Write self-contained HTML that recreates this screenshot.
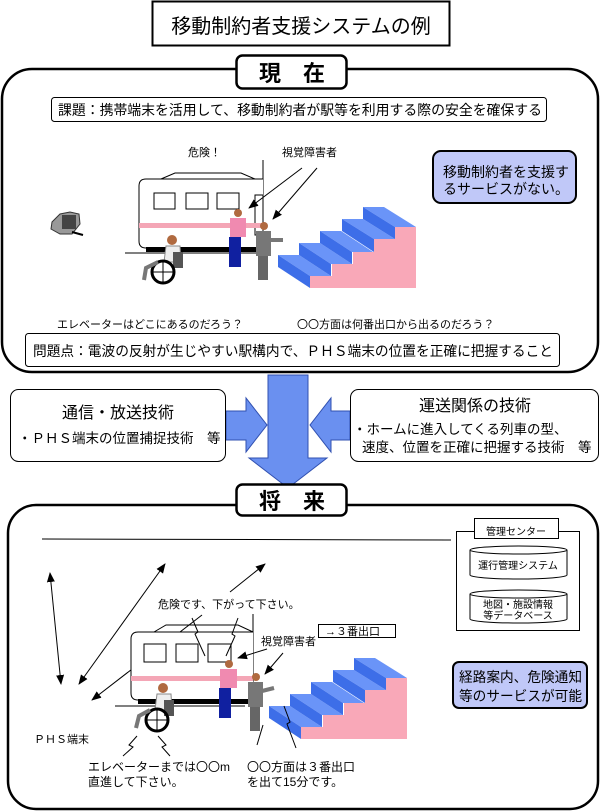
<!DOCTYPE html>
<html><head><meta charset="utf-8"><style>
html,body{margin:0;padding:0;background:#fff;}
svg{display:block;}
text{font-family:"Liberation Sans","Noto Sans CJK JP",sans-serif;fill:#000;}
</style></head><body>
<svg width="600" height="811" viewBox="0 0 600 811" xmlns="http://www.w3.org/2000/svg">
<defs>
<marker id="ah" markerWidth="10" markerHeight="10" refX="9" refY="5" orient="auto" markerUnits="userSpaceOnUse"><path d="M0,1 L10,5 L0,9 z" fill="#000"/></marker>
<marker id="as" markerWidth="10" markerHeight="10" refX="1" refY="5" orient="auto" markerUnits="userSpaceOnUse"><path d="M10,1 L0,5 L10,9 z" fill="#000"/></marker>
<g id="stairs">
<polygon points="310,288 416,288 416,227 395,227 395,239 374,239 374,252 353,252 353,264 332,264 332,276 310,276" fill="#f9a8b8"/>
<polygon points="278,255 299,255 331,276 310,276" fill="#6a94f8"/><polygon points="278,255 310,276 310,288 278,267" fill="#3d6ee8"/>
<polygon points="299,243 320,243 352,264 331,264" fill="#6a94f8"/><polygon points="299,243 331,264 331,276 299,255" fill="#3d6ee8"/>
<polygon points="320,231 341,231 373,252 352,252" fill="#6a94f8"/><polygon points="320,231 352,252 352,264 320,243" fill="#3d6ee8"/>
<polygon points="342,219 363,219 395,239 374,239" fill="#6a94f8"/><polygon points="342,219 374,239 374,252 342,231" fill="#3d6ee8"/>
<polygon points="363,207 384,207 416,227 395,227" fill="#6a94f8"/><polygon points="363,207 395,227 395,239 363,219" fill="#3d6ee8"/>
</g>
</defs>

<!-- Title -->
<rect x="152.5" y="1.5" width="297" height="44" fill="#fff" stroke="#000" stroke-width="2"/>
<text x="301" y="33" font-size="20" text-anchor="middle">移動制約者支援システムの例</text>

<!-- Top panel -->
<rect x="2" y="69" width="596" height="303" rx="30" fill="#fff" stroke="#000" stroke-width="2.5"/>
<rect x="236.5" y="55.5" width="110" height="33" rx="6" fill="#fff" stroke="#000" stroke-width="2.5"/>
<text x="292" y="81" font-size="22" font-weight="bold" text-anchor="middle">現　在</text>
<rect x="51.5" y="97.5" width="495" height="24" rx="3" fill="#fff" stroke="#000" stroke-width="1"/>
<text x="58" y="115" font-size="14" textLength="484" lengthAdjust="spacingAndGlyphs">課題：携帯端末を活用して、移動制約者が駅等を利用する際の安全を確保する</text>

<text x="188" y="156" font-size="11">危険！</text>
<text x="282" y="156" font-size="11">視覚障害者</text>

<rect x="433" y="151" width="143" height="52" rx="8" fill="#c0c8f8" stroke="#000" stroke-width="2"/>
<text x="443" y="177" font-size="14">移動制約者を支援す</text>
<text x="443" y="194" font-size="14">るサービスがない。</text>

<!-- train top -->
<line x1="263" y1="160" x2="263" y2="265" stroke="#000"/>
<path d="M161,179 L175,173 L241,173 L255,179" fill="none" stroke="#000"/>
<path d="M263,179 L146,179 Q139,179 139,186 L139,241 Q139,248 146,248 L263,248" fill="#fff" stroke="#000"/>
<rect x="154" y="193" width="21" height="16" fill="#fff" stroke="#000"/>
<rect x="186" y="193" width="22" height="16" fill="#fff" stroke="#000"/>
<rect x="217" y="193" width="22" height="16" fill="#fff" stroke="#000"/>
<rect x="255" y="195" width="8" height="40" fill="none" stroke="#000"/>
<rect x="139" y="223" width="124" height="5" fill="#f4a6b6"/>
<rect x="146" y="247" width="117" height="5" fill="#000"/>
<line x1="125" y1="253" x2="263" y2="253" stroke="#000"/>
<line x1="302" y1="168" x2="249" y2="208" stroke="#000" marker-end="url(#ah)"/>
<line x1="317" y1="168" x2="273" y2="219" stroke="#000" marker-end="url(#ah)"/>

<use href="#stairs"/>

<!-- phone -->
<g>
<polygon points="52,222 60,214 70,212 79,214 80,224 72,234 60,234 51,229" fill="#999" stroke="#333"/>
<rect x="62" y="215" width="14" height="14" fill="#444"/>
<line x1="72" y1="232" x2="83" y2="235" stroke="#000" stroke-width="2"/>
</g>

<!-- people top -->
<g>
<circle cx="172" cy="240" r="5" fill="#b06a40"/>
<path d="M166,246 L180,246 L181,262 L164,262 z" fill="#eee" stroke="#888"/>
<rect x="173" y="252" width="10" height="16" fill="#555"/>
<circle cx="163" cy="272" r="11" fill="none" stroke="#000" stroke-width="3"/>
<line x1="152" y1="272" x2="174" y2="272" stroke="#000"/><line x1="163" y1="261" x2="163" y2="283" stroke="#000"/>
<path d="M158,262 L146,268 L144,280" stroke="#777" stroke-width="4" fill="none"/>
<circle cx="238" cy="213" r="4" fill="#b06a40"/>
<path d="M230,218 L246,218 L246,237 L230,237 z" fill="#f08ab0"/>
<rect x="229" y="237" width="12" height="30" fill="#1020a0"/>
<circle cx="264" cy="226" r="4" fill="#b06a40"/>
<rect x="256" y="231" width="15" height="25" fill="#777"/>
<line x1="270" y1="240" x2="283" y2="240" stroke="#777" stroke-width="4"/>
<rect x="258" y="256" width="10" height="24" fill="#666"/>
</g>

<text x="57" y="328" font-size="11">エレベーターはどこにあるのだろう？</text>
<text x="297" y="328" font-size="11">〇〇方面は何番出口から出るのだろう？</text>
<rect x="25.5" y="333.5" width="534" height="33" rx="3" fill="#fff" stroke="#000" stroke-width="1"/>
<text x="33" y="356" font-size="14" textLength="520" lengthAdjust="spacingAndGlyphs">問題点：電波の反射が生じやすい駅構内で、ＰＨＳ端末の位置を正確に把握すること</text>

<!-- middle arrows -->
<polygon points="268,375 308,375 308,458 327,458 288,488 249,458 268,458" fill="#6a90f0" stroke="#3050b0" stroke-width="1"/>
<polygon points="226,411 246,411 246,398 267,425 246,452 246,440 226,440" fill="#6a90f0" stroke="#3050b0" stroke-width="1"/>
<polygon points="350,411 331,411 331,398 310,425 331,452 331,440 350,440" fill="#6a90f0" stroke="#3050b0" stroke-width="1"/>
<rect x="10.5" y="389.5" width="215" height="72" rx="8" fill="#fff" stroke="#000"/>
<text x="118" y="418" font-size="16" text-anchor="middle">通信・放送技術</text>
<text x="18" y="443" font-size="13.5">・ＰＨＳ端末の位置捕捉技術　等</text>
<rect x="350.5" y="389.5" width="248" height="72" rx="8" fill="#fff" stroke="#000"/>
<text x="475" y="411" font-size="16" text-anchor="middle">運送関係の技術</text>
<text x="353" y="434" font-size="13.5">・ホームに進入してくる列車の型、</text>
<text x="362" y="452" font-size="13.5">速度、位置を正確に把握する技術　等</text>

<!-- Bottom panel -->
<rect x="8" y="505" width="590" height="304" rx="28" fill="#fff" stroke="#000" stroke-width="2.5"/>
<rect x="236.5" y="484.5" width="110" height="31" rx="6" fill="#fff" stroke="#000" stroke-width="2.5"/>
<text x="292" y="509" font-size="22" font-weight="bold" text-anchor="middle">将　来</text>

<line x1="42" y1="539" x2="451" y2="540" stroke="#000"/>
<rect x="456.5" y="531.5" width="123" height="99" fill="#fff" stroke="#000"/>
<rect x="474.5" y="518.5" width="84" height="20" fill="#fff" stroke="#000"/>
<text x="516" y="535" font-size="10" text-anchor="middle">管理センター</text>
<path d="M470,550 L470,575 A48.5,4 0 0 0 567,575 L567,550" fill="#fff" stroke="#000"/>
<ellipse cx="518.5" cy="550" rx="48.5" ry="4" fill="#fff" stroke="#000"/>
<text x="518" y="569" font-size="10" text-anchor="middle">運行管理システム</text>
<path d="M470,594 L470,619 A48.5,4 0 0 0 567,619 L567,594" fill="#fff" stroke="#000"/>
<ellipse cx="518.5" cy="594" rx="48.5" ry="4" fill="#fff" stroke="#000"/>
<text x="518" y="608" font-size="10" text-anchor="middle">地図・施設情報</text>
<text x="518" y="619" font-size="10" text-anchor="middle">等データベース</text>

<line x1="50" y1="573" x2="61" y2="684" stroke="#000" marker-start="url(#as)" marker-end="url(#ah)"/>
<line x1="165" y1="564" x2="79" y2="684" stroke="#000" marker-start="url(#as)" marker-end="url(#ah)"/>
<line x1="230" y1="592" x2="265" y2="564" stroke="#000" marker-end="url(#ah)"/>
<line x1="202" y1="615" x2="92" y2="700" stroke="#000" marker-end="url(#ah)"/>
<text x="158" y="608" font-size="11">危険です、下がって下さい。</text>

<line x1="253" y1="614" x2="253" y2="700" stroke="#000"/>
<path d="M154,632 L166,625 L238,625 L253,632" fill="none" stroke="#000"/>
<path d="M253,632 L138,632 Q131,632 131,639 L131,693 Q131,700 138,700 L253,700" fill="#fff" stroke="#000"/>
<rect x="144" y="644" width="22" height="18" fill="#fff" stroke="#000"/>
<rect x="176" y="644" width="22" height="18" fill="#fff" stroke="#000"/>
<rect x="208" y="644" width="23" height="18" fill="#fff" stroke="#000"/>
<rect x="131" y="676" width="122" height="5" fill="#f4a6b6"/>
<rect x="138" y="699" width="115" height="5" fill="#000"/>
<line x1="115" y1="706" x2="245" y2="706" stroke="#000"/>
<polyline points="192,618 198,632 195,634 205,656" fill="none" stroke="#000"/>
<polyline points="238,618 232,634 235,636 226,656" fill="none" stroke="#000"/>
<text x="261" y="645" font-size="11">視覚障害者</text>
<line x1="267" y1="649" x2="238" y2="658" stroke="#000" marker-end="url(#ah)"/>
<line x1="283" y1="653" x2="265" y2="674" stroke="#000" marker-end="url(#ah)"/>
<rect x="318.5" y="624.5" width="77" height="13" fill="#fff" stroke="#000"/>
<text x="325" y="635" font-size="11">→３番出口</text>

<use href="#stairs" transform="translate(-9,451)"/>
<polyline points="284,706 290,722 287,724 296,748" fill="none" stroke="#000"/>
<line x1="257" y1="745" x2="263" y2="725" stroke="#000"/>

<!-- people bottom -->
<g>
<circle cx="163" cy="688" r="5" fill="#b06a40"/>
<path d="M157,694 L171,694 L172,710 L155,710 z" fill="#eee" stroke="#888"/>
<rect x="164" y="700" width="10" height="16" fill="#555"/>
<circle cx="157" cy="720" r="11" fill="none" stroke="#000" stroke-width="3"/>
<line x1="146" y1="720" x2="168" y2="720" stroke="#000"/><line x1="157" y1="709" x2="157" y2="731" stroke="#000"/>
<path d="M150,710 L139,716 L136,728" stroke="#777" stroke-width="4" fill="none"/>
<circle cx="229" cy="664" r="4" fill="#b06a40"/>
<path d="M220,669 L237,669 L237,688 L220,688 z" fill="#f08ab0"/>
<rect x="219" y="688" width="12" height="30" fill="#1020a0"/>
<circle cx="256" cy="677" r="4" fill="#b06a40"/>
<rect x="248" y="682" width="15" height="25" fill="#777"/>
<line x1="262" y1="691" x2="274" y2="688" stroke="#777" stroke-width="4"/>
<rect x="250" y="707" width="10" height="24" fill="#666"/>
</g>
<polyline points="137,736 129,745 133,747 123,756" fill="none" stroke="#000"/>
<polyline points="158,736 166,745 162,747 170,756" fill="none" stroke="#000"/>

<rect x="453" y="662" width="134" height="46" rx="6" fill="#c0c8f8" stroke="#000" stroke-width="2"/>
<text x="459" y="682" font-size="14" textLength="123" lengthAdjust="spacingAndGlyphs">経路案内、危険通知</text>
<text x="459" y="701" font-size="14" textLength="123" lengthAdjust="spacingAndGlyphs">等のサービスが可能</text>

<text x="34" y="743" font-size="11">ＰＨＳ端末</text>
<text x="88" y="771" font-size="12">エレベーターまでは〇〇m</text>
<text x="88" y="786" font-size="12">直進して下さい。</text>
<text x="247" y="771" font-size="12">〇〇方面は３番出口</text>
<text x="247" y="786" font-size="12">を出て15分です。</text>
</svg>
</body></html>
